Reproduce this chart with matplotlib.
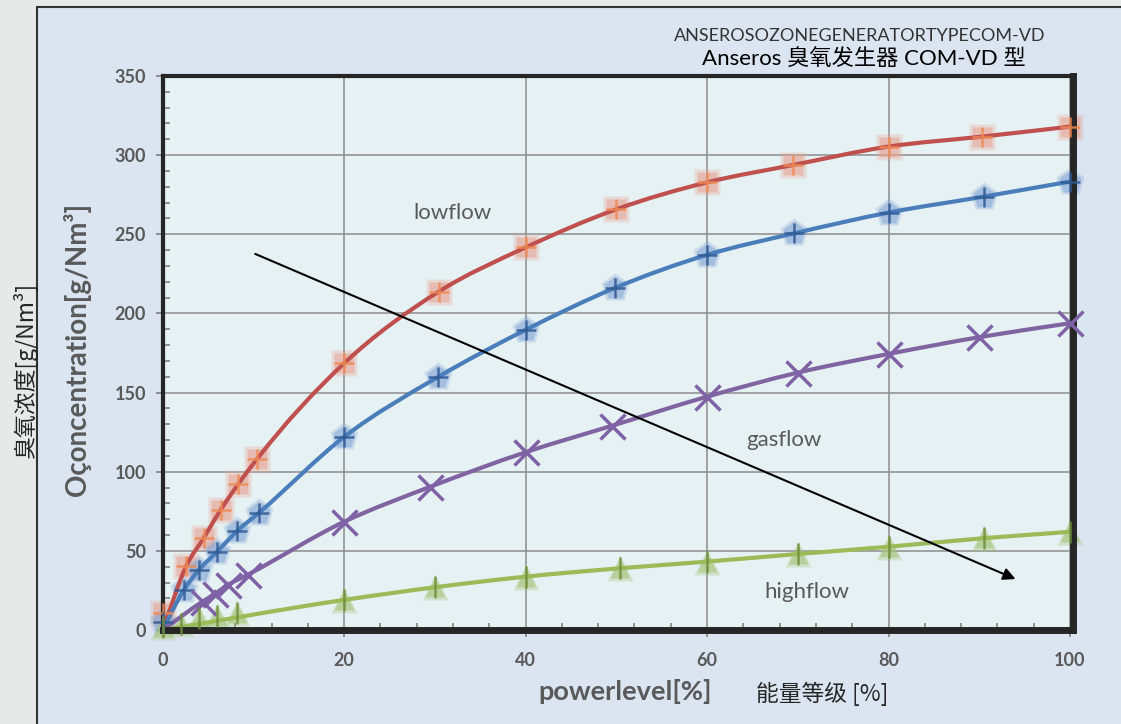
import matplotlib
matplotlib.use("Agg")
import matplotlib.pyplot as plt
from matplotlib.patches import Rectangle, PathPatch
from matplotlib.path import Path
from matplotlib.ticker import MultipleLocator

# ---------------- data ----------------
low_x = [0, 2.6, 4.5, 6.4, 8.3, 10.4, 20, 30.4, 40, 50, 60, 69.5, 80, 90.3, 100]
low_y = [11, 40.5, 58, 76, 92, 108, 168.5, 213.7, 241.7, 265.8, 282.8, 293.8, 305.4, 311.7, 318]

mid_x = [0, 2.3, 4, 6, 8.2, 10.6, 20, 30.3, 40, 49.8, 60, 69.6, 80, 90.5, 100]
mid_y = [5, 25, 38, 49.5, 62.5, 74, 122, 159.7, 189.6, 216, 237, 250.6, 263.7, 273.8, 283.3]

gas_x = [4.4, 5.8, 7.2, 9.4, 20, 29.5, 40, 49.5, 60, 70, 80, 90, 100]
gas_y = [18, 23, 28.5, 35, 68.4, 90.5, 112.3, 129, 147.4, 162.6, 174.4, 185, 193.8]

high_x = [0, 2, 4, 6, 8.2, 20, 30, 40, 50.4, 60, 70, 80, 90.5, 100]
high_y = [2, 4, 7.5, 9, 10.5, 19, 27, 33.7, 39, 43.2, 48, 52.6, 58, 62]

# curve knots: origin + markers starting at given index
low_line_start = 1
mid_line_start = 1
gas_line_start = 0
high_line_start = 5

x_ticks = [0, 20, 40, 60, 80, 100]
y_ticks = [0, 50, 100, 150, 200, 250, 300, 350]

title1 = "ANSEROSOZONEGENERATORTYPECOM-VD"
title2 = "Anseros 臭氧发生器 COM-VD 型"
xlabel_en = "powerlevel[%]"
xlabel_cn = "能量等级 [%]"
ylabel_en = "Oçoncentration[g/Nm³]"
ylabel_cn = "臭氧浓度[g/Nm³]"

W, H = 1121, 724

def smooth_path(xs, ys):
    n = len(xs)
    d = [(ys[i + 1] - ys[i]) / (xs[i + 1] - xs[i]) for i in range(n - 1)]
    h = [xs[i + 1] - xs[i] for i in range(n - 1)]
    m = [d[0]]
    for i in range(1, n - 1):
        m.append((h[i] * d[i - 1] + h[i - 1] * d[i]) / (h[i - 1] + h[i]))
    m.append(d[-1])
    verts = [(xs[0], ys[0])]
    codes = [Path.MOVETO]
    for i in range(n - 1):
        hh = h[i]
        verts += [(xs[i] + hh / 3, ys[i] + m[i] * hh / 3),
                  (xs[i + 1] - hh / 3, ys[i + 1] - m[i + 1] * hh / 3),
                  (xs[i + 1], ys[i + 1])]
        codes += [Path.CURVE4] * 3
    return Path(verts, codes)

fig = plt.figure(figsize=(W / 100, H / 100), dpi=100)
fig.patch.set_facecolor('#e7e8e8')
panel = Rectangle((37 / W, -0.02), 1.0, 1 - 7 / H + 0.02, transform=fig.transFigure,
                  facecolor='#dbe5f1', edgecolor='#333333', lw=1.5, zorder=-5)
fig.add_artist(panel)

ax = fig.add_axes([162.7 / W, (H - 630) / H, 910 / W, 554 / H])
ax.set_zorder(2)
ax.set_facecolor('#e6f1f3')
ax.set_xlim(0, 100.3)
ax.set_ylim(0, 350)

for side in ['left', 'top']:
    ax.spines[side].set_linewidth(3)
for side in ['right', 'bottom']:
    ax.spines[side].set_linewidth(5)
for s in ax.spines.values():
    s.set_color('#262626')
    s.set_zorder(5)

ax.set_xticks(x_ticks)
ax.set_yticks(y_ticks)
ax.xaxis.set_minor_locator(MultipleLocator(4))
ax.yaxis.set_minor_locator(MultipleLocator(10))
ax.tick_params(which='major', direction='out', length=5, width=1.2, color='#808080',
               labelsize=13, labelcolor='#595959')
ax.tick_params(axis='x', which='major', pad=11)
ax.tick_params(axis='y', which='major', pad=7)
ax.tick_params(which='minor', direction='in', length=5, width=1.2, color='#808080')
for lab in ax.get_xticklabels() + ax.get_yticklabels():
    lab.set_fontweight('bold')
    lab.set_family('Lato')

ax.grid(which='major', color='#8c8c8c', lw=1.1)
ax.set_axisbelow(True)

series = [
    (low_x, low_y, low_line_start, '#c0504d'),
    (mid_x, mid_y, mid_line_start, '#4a7ebb'),
    (gas_x, gas_y, gas_line_start, '#8064a2'),
    (high_x, high_y, high_line_start, '#9bbb59'),
]

# marker bodies (below lines), soft edge via two layers
for ms, a in [(19, 0.30), (15, 0.55)]:
    ax.plot(low_x, low_y, ls='none', marker='s', ms=ms, mfc='#e6a393', mec='none', alpha=a,
            zorder=3, clip_on=False)
for ms, a in [(21, 0.30), (17, 0.55)]:
    ax.plot(mid_x, mid_y, ls='none', marker='p', ms=ms, mfc='#86a8d6', mec='none', alpha=a,
            zorder=3, clip_on=False)
for ms, a in [(19, 0.30), (15, 0.55)]:
    ax.plot(high_x, high_y, ls='none', marker='^', ms=ms, mfc='#a3c274', mec='none', alpha=a,
            zorder=3, clip_on=False)

for xs, ys, k, col in series:
    px = [0] + list(xs[k:])
    py = [0] + list(ys[k:])
    ax.add_patch(PathPatch(smooth_path(px, py), fill=False, edgecolor=col, lw=3.0,
                           capstyle='round', zorder=4))

# marker overlays
ax.plot(low_x, low_y, ls='none', marker='+', ms=15, mew=1.8, color='#ee8a55', alpha=0.85,
        zorder=6, clip_on=False)
ax.plot(mid_x, mid_y, ls='none', marker='+', ms=15, mew=1.8, color='#2f5a94', alpha=0.85,
        zorder=6, clip_on=False)
ax.plot(gas_x, gas_y, ls='none', marker='x', ms=18, mew=2.5, color='#7f62a6',
        zorder=6, clip_on=False)
ax.plot(high_x, high_y, ls='none', marker='|', ms=16, mew=1.8, color='#6f8f3a', alpha=0.85,
        zorder=6, clip_on=False)

ax.annotate('', xy=(94.0, 32.2), xytext=(10.2, 237.6),
            arrowprops=dict(arrowstyle='-|>', color='black', lw=1.5, mutation_scale=18,
                            shrinkA=0, shrinkB=0), zorder=7)

txt_kw = dict(ha='center', va='center', fontsize=16, color='#595959', family='Lato', zorder=8)
ax.text(31.9, 263.5, 'lowflow', **txt_kw)
ax.text(68.5, 120, 'gasflow', **txt_kw)
ax.text(71.0, 24, 'highflow', **txt_kw)

fig.text(860 / W, 1 - 36 / H, title1, ha='center', va='center', fontsize=13,
         color='#333333', family='Lato')
fig.text(864 / W, 1 - 58 / H, title2, ha='center', va='center', fontsize=16,
         color='#000000', family=['Lato', 'Noto Sans CJK SC'])
fig.text(625 / W, 1 - 692 / H, xlabel_en, ha='center', va='center', fontsize=19.5,
         fontweight='bold', color='#595959', family='Lato')
fig.text(822 / W, 1 - 694 / H, xlabel_cn, ha='center', va='center', fontsize=16.4,
         color='#262626', family=['Noto Sans CJK SC', 'DejaVu Sans'])
fig.text(77 / W, 1 - 349 / H, ylabel_en, ha='center', va='center', rotation=90, fontsize=20,
         fontweight='bold', color='#595959', family=['Lato', 'DejaVu Sans'])
fig.text(25 / W, 1 - 370 / H, ylabel_cn, ha='center', va='center', rotation=90, fontsize=16.5,
         color='#262626', family=['Noto Sans CJK SC', 'DejaVu Sans'])

fig.savefig('out.png', dpi=100, facecolor=fig.get_facecolor())
